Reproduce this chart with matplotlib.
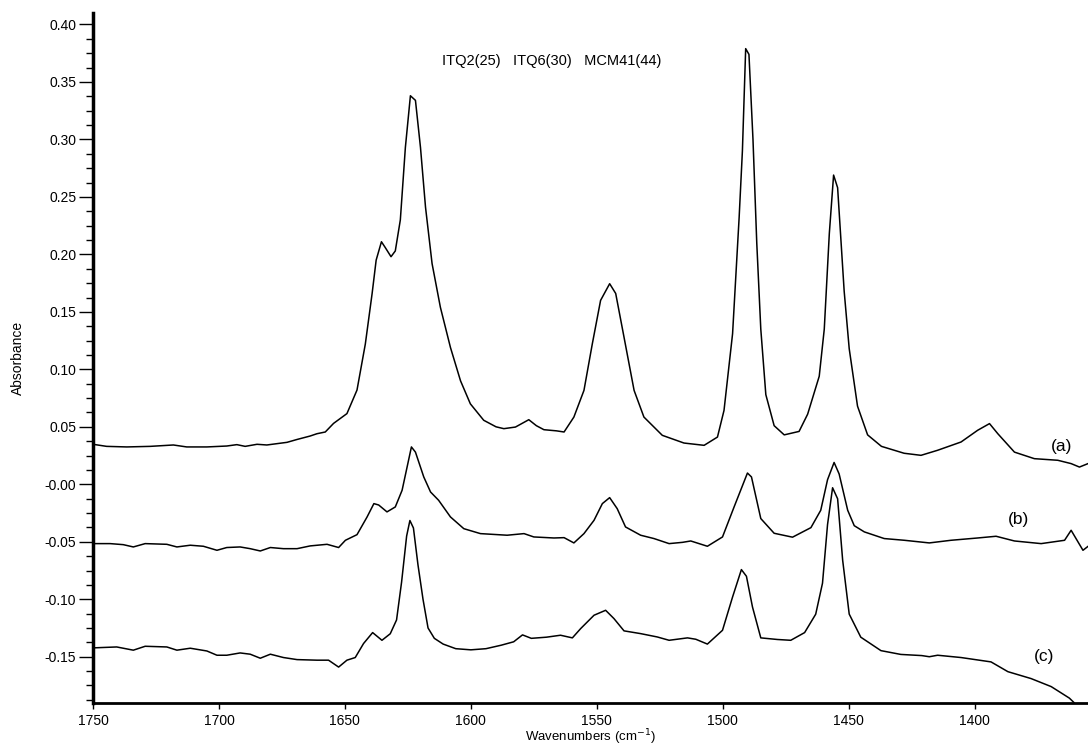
import matplotlib
matplotlib.use('Agg')
import matplotlib.pyplot as plt
from matplotlib.ticker import MultipleLocator, AutoMinorLocator, FuncFormatter

plt.rcParams['font.family'] = ['Liberation Sans', 'DejaVu Sans']
plt.rcParams['axes.unicode_minus'] = False

# spectrum (a)
wn_a = [1750, 1744.6, 1736.6, 1727.3, 1718.1, 1712.8, 1704.8, 1696.9, 1692.9, 1689.6,
        1684.9, 1681.0, 1673.0, 1669.0, 1663.8, 1661.1, 1657.8, 1654.5, 1649.2, 1645.2,
        1641.9, 1639.2, 1637.6, 1635.5, 1634.0, 1631.7, 1630.0, 1628.0, 1626.0, 1624.0,
        1622.0, 1620.0, 1618.0, 1615.4, 1612.1, 1608.1, 1604.1, 1600.2, 1594.9, 1590.0,
        1586.9, 1582.3, 1577.0, 1574.0, 1571.0, 1566.0, 1563.0, 1559.1, 1555.1, 1551.8,
        1548.5, 1544.9, 1542.5, 1539.2, 1535.2, 1531.3, 1524.0, 1515.4, 1507.4, 1502.1,
        1499.5, 1496.1, 1493.5, 1492.2, 1490.9, 1489.6, 1488.0, 1486.5, 1484.9, 1482.9,
        1479.6, 1475.6, 1469.7, 1466.3, 1461.7, 1459.7, 1457.7, 1456.0, 1454.4, 1451.8,
        1449.8, 1446.5, 1442.5, 1437.0, 1428.0, 1421.3, 1414.7, 1405.4, 1398.8, 1394.1,
        1390.8, 1384.2, 1376.3, 1367.0, 1361.7, 1358.4, 1355.0]
abs_a = [0.0348, 0.033, 0.0325, 0.033, 0.0342, 0.0325, 0.0325, 0.0333, 0.0345, 0.033,
         0.0348, 0.0342, 0.0365, 0.039, 0.042, 0.044, 0.0455, 0.053, 0.0615, 0.082,
         0.122, 0.166, 0.195, 0.211, 0.206, 0.198, 0.203, 0.230, 0.293, 0.338,
         0.334, 0.293, 0.241, 0.192, 0.154, 0.119, 0.090, 0.070, 0.0557, 0.050,
         0.0484, 0.0498, 0.0562, 0.051, 0.0475, 0.0465, 0.0455, 0.0585, 0.0817, 0.122,
         0.160, 0.1745, 0.166, 0.128, 0.0817, 0.0585, 0.0426, 0.0359, 0.0339, 0.0411,
         0.0643, 0.131, 0.232, 0.290, 0.379, 0.374, 0.300, 0.210, 0.135, 0.078,
         0.051, 0.043, 0.046, 0.061, 0.094, 0.135, 0.218, 0.269, 0.258, 0.168,
         0.118, 0.068, 0.043, 0.033, 0.027, 0.0252, 0.0296, 0.0368, 0.047, 0.0528,
         0.044, 0.028, 0.0223, 0.0209, 0.018, 0.015, 0.018]

# spectrum (b)
wn_b = [1750, 1743.2, 1738.0, 1734.0, 1729.3, 1720.7, 1716.7, 1711.4, 1706.2, 1700.8,
        1696.9, 1691.6, 1687.6, 1683.6, 1679.6, 1674.4, 1669.0, 1663.8, 1657.1, 1652.5,
        1649.8, 1645.2, 1641.2, 1638.5, 1636.6, 1633.3, 1630.0, 1627.3, 1623.6, 1622.0,
        1618.7, 1616.0, 1612.8, 1608.1, 1602.8, 1596.2, 1585.6, 1578.9, 1575.0, 1567.0,
        1563.0, 1559.1, 1555.1, 1551.1, 1547.8, 1544.9, 1541.9, 1538.6, 1532.6, 1527.3,
        1521.3, 1516.0, 1512.7, 1506.1, 1500.1, 1495.5, 1490.2, 1488.6, 1484.9, 1479.6,
        1472.3, 1465.0, 1461.1, 1458.4, 1455.8, 1453.8, 1450.4, 1447.8, 1443.8, 1435.9,
        1427.9, 1418.0, 1409.4, 1398.8, 1391.5, 1384.2, 1373.6, 1364.3, 1361.7, 1357.0,
        1355.0]
abs_b = [-0.0516, -0.0516, -0.0525, -0.0545, -0.0516, -0.0522, -0.0545, -0.053, -0.0539, -0.0574,
         -0.055, -0.0545, -0.056, -0.058, -0.055, -0.056, -0.056, -0.0536, -0.0522, -0.055,
         -0.0487, -0.0438, -0.0284, -0.0168, -0.018, -0.024, -0.0197, -0.0052, 0.0325, 0.028,
         0.0064, -0.0067, -0.0139, -0.0284, -0.0386, -0.0429, -0.0443, -0.0429, -0.0458, -0.0467,
         -0.0464, -0.051, -0.0429, -0.0313, -0.0168, -0.0116, -0.0212, -0.0371, -0.0443, -0.0472,
         -0.0516, -0.0505, -0.0493, -0.0539, -0.0458, -0.0197, 0.0098, 0.0064, -0.0298, -0.0426,
         -0.046, -0.0377, -0.0226, 0.004, 0.019, 0.009, -0.0226, -0.036, -0.0414, -0.0472,
         -0.0487, -0.051, -0.0487, -0.0467, -0.0452, -0.0493, -0.0516, -0.0487, -0.040, -0.0574,
         -0.054]

# spectrum (c)
wn_c = [1750, 1740.6, 1734.0, 1729.3, 1720.7, 1716.7, 1711.4, 1704.8, 1700.8, 1696.9,
        1691.6, 1687.6, 1683.6, 1679.6, 1674.4, 1669.0, 1661.1, 1656.5, 1652.5, 1649.2,
        1645.9, 1642.6, 1639.0, 1635.3, 1632.0, 1629.5, 1627.5, 1625.5, 1624.2, 1622.8,
        1621.0, 1619.0, 1617.0, 1614.5, 1611.0, 1606.0, 1600.0, 1594.0, 1588.0, 1583.0,
        1579.5, 1576.0, 1570.0, 1564.4, 1559.7, 1556.4, 1551.1, 1546.5, 1543.2, 1539.2,
        1532.6, 1526.0, 1521.3, 1514.0, 1510.7, 1506.1, 1500.1, 1496.1, 1492.6, 1490.6,
        1488.2, 1484.9, 1478.3, 1473.0, 1467.5, 1463.1, 1460.4, 1458.4, 1456.4, 1454.4,
        1452.4, 1449.8, 1445.2, 1437.2, 1429.3, 1421.0, 1418.0, 1414.7, 1405.4, 1393.5,
        1386.8, 1377.6, 1369.6, 1362.4, 1360.5]
abs_c = [-0.1423, -0.1415, -0.1443, -0.1409, -0.1415, -0.1443, -0.1426, -0.145, -0.1487, -0.1487,
         -0.1467, -0.1478, -0.1513, -0.1478, -0.1507, -0.1525, -0.153, -0.153, -0.159, -0.153,
         -0.1507, -0.1385, -0.129, -0.1357, -0.130, -0.118, -0.085, -0.045, -0.0315, -0.038,
         -0.070, -0.100, -0.125, -0.134, -0.139, -0.143, -0.144, -0.143, -0.140, -0.137,
         -0.131, -0.134, -0.133, -0.1313, -0.1336, -0.1255, -0.1139, -0.1096, -0.1168, -0.1275,
         -0.1299, -0.1328, -0.1357, -0.1336, -0.1348, -0.139, -0.127, -0.098, -0.0742, -0.080,
         -0.1067, -0.1336, -0.135, -0.1357, -0.129, -0.113, -0.086, -0.035, -0.003, -0.0126,
         -0.066, -0.1129, -0.133, -0.1447, -0.148, -0.149, -0.150, -0.1487, -0.1507, -0.1545,
         -0.163, -0.169, -0.176, -0.186, -0.190]

curve_labels = ['(a)', '(b)', '(c)']
label_pos = [(1365.3, 0.033), (1382.5, -0.0304), (1372.4, -0.150)]
samples_text = 'ITQ2(25)   ITQ6(30)   MCM41(44)'

fig = plt.figure(figsize=(10.88, 7.51), dpi=100)
ax = fig.add_axes([0.0855, 0.0643, 0.9145, 0.9184])

for wn, ab in [(wn_a, abs_a), (wn_b, abs_b), (wn_c, abs_c)]:
    ax.plot(wn, ab, color='black', lw=1.1)

for lab, (x, y) in zip(curve_labels, label_pos):
    ax.text(x, y, lab, fontsize=12.5, ha='center', va='center')

ax.text(1568, 0.368, samples_text, fontsize=10.5, ha='center', va='center')

ax.set_xlim(1750, 1355)
ax.set_ylim(-0.19, 0.41)
ax.xaxis.set_major_locator(MultipleLocator(50))
ax.yaxis.set_major_locator(MultipleLocator(0.05))
ax.yaxis.set_minor_locator(AutoMinorLocator(4))
ax.yaxis.set_major_formatter(FuncFormatter(lambda v, p: '-0.00' if abs(v) < 1e-9 else f'{v:.2f}'))

for s in ['top', 'right']:
    ax.spines[s].set_visible(False)
ax.spines['left'].set_linewidth(2.5)
ax.spines['bottom'].set_linewidth(2.0)

ax.tick_params(axis='y', which='major', direction='out', length=10, width=1, labelsize=10, pad=2)
ax.tick_params(axis='y', which='minor', direction='out', length=5, width=1)
ax.tick_params(axis='x', which='major', direction='out', length=4, width=1, labelsize=10, pad=4)

ax.set_xlabel('Wavenumbers (cm$^{-1}$)', fontsize=9.5, labelpad=0)
ax.set_ylabel('Absorbance', fontsize=10, labelpad=14)

plt.savefig('out.png', dpi=100)
